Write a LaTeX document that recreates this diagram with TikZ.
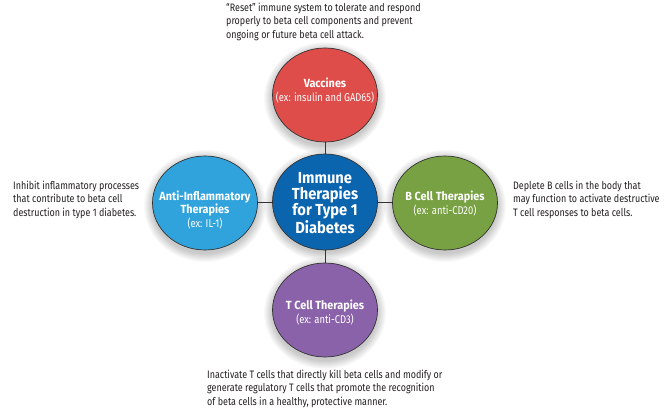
\documentclass[tikz,border=0pt]{standalone}
\usepackage{fontspec}
\setmainfont[FakeStretch=0.83, BoldFeatures={FakeStretch=0.92}]{Fira Sans}
\usetikzlibrary{shapes.geometric,calc}
\definecolor{cred}{HTML}{DE4D4A}
\definecolor{cblue}{HTML}{0B64AE}
\definecolor{clblue}{HTML}{30A3DC}
\definecolor{cgreen}{HTML}{77A142}
\definecolor{cpurple}{HTML}{8A62AA}
\definecolor{cline}{HTML}{333333}
\definecolor{ctext}{HTML}{231F20}
\tikzset{
  bub/.style={ellipse, draw=cline, line width=0.7pt, minimum width=105pt, minimum height=94pt, inner sep=0pt},
  btxt/.style={text=white, align=center, inner sep=0pt, font=\fontsize{11.3}{14}\selectfont},
  note/.style={anchor=north west, align=left, text=ctext, inner sep=0pt,
    font=\fontsize{10.8}{13.3}\selectfont},
  conn/.style={draw=cline, line width=0.8pt},
  shad/.style={fill=black, opacity=0.022}
}
\newcommand{\ttlx}[1]{{\fontsize{11.8}{14}\selectfont\bfseries #1}}
\newcommand{\softshadow}[1]{%
  \foreach \k in {1,...,9} {\fill[shad] ($(#1)+(0,3)$) ellipse ({52+\k} and {47+\k});}}
\begin{document}
\begin{tikzpicture}[x=1pt,y=-1pt]
\useasboundingbox[fill=white] (0,0) rectangle (666,414);
\coordinate (pvac) at (325,95);
\coordinate (panti) at (205,203);
\coordinate (pb) at (445,203);
\coordinate (pt) at (325,310);
\coordinate (pimm) at (325,202);
\softshadow{pvac}
\softshadow{panti}
\softshadow{pb}
\softshadow{pt}
\softshadow{pimm}
\node[bub, fill=cred] (vac) at (pvac) {};
\node[bub, fill=clblue] (anti) at (panti) {};
\node[bub, fill=cgreen] (bcell) at (pb) {};
\node[bub, fill=cpurple] (tcell) at (pt) {};
\node[bub, fill=cblue, minimum height=96pt] (imm) at (pimm) {};
\node[btxt] (vact) at ($(vac)+(0,-4)$) {\ttlx{Vaccines}\\(ex: insulin and GAD65)};
\node[btxt] (antit) at ($(anti)+(0,7)$) {\ttlx{Anti-Inflammatory}\\[-1pt]\ttlx{Therapies}\\[0pt](ex: IL-1)};
\node[btxt] (bcellt) at ($(bcell)+(0,1)$) {\ttlx{B Cell Therapies}\\(ex: anti-CD20)};
\node[btxt] (tcellt) at ($(tcell)+(0,3)$) {\ttlx{T Cell Therapies}\\(ex: anti-CD3)};
\node[btxt, font=\fontsize{16}{16.3}\selectfont\bfseries] (immt) at ($(imm)+(0,1)$) {Immune\\Therapies\\for Type 1\\Diabetes};
\draw[conn] (imm) -- (vac);
\draw[conn] (imm) -- (anti);
\draw[conn] (imm) -- (bcell);
\draw[conn] (imm) -- (tcell);
\node[note] (tvac) at (226,3) {“Reset” immune system to tolerate and respond\\properly to beta cell components and prevent\\ongoing or future beta cell attack.};
\node[note] (tanti) at (13,181) {Inhibit inflammatory processes\\that contribute to beta cell\\destruction in type 1 diabetes.};
\node[note] (tb) at (513,181) {Deplete B cells in the body that\\may function to activate destructive\\T cell responses to beta cells.};
\node[note] (tt) at (207,370) {Inactivate T cells that directly kill beta cells and modify or\\generate regulatory T cells that promote the recognition\\of beta cells in a healthy, protective manner.};
\end{tikzpicture}
\end{document}
